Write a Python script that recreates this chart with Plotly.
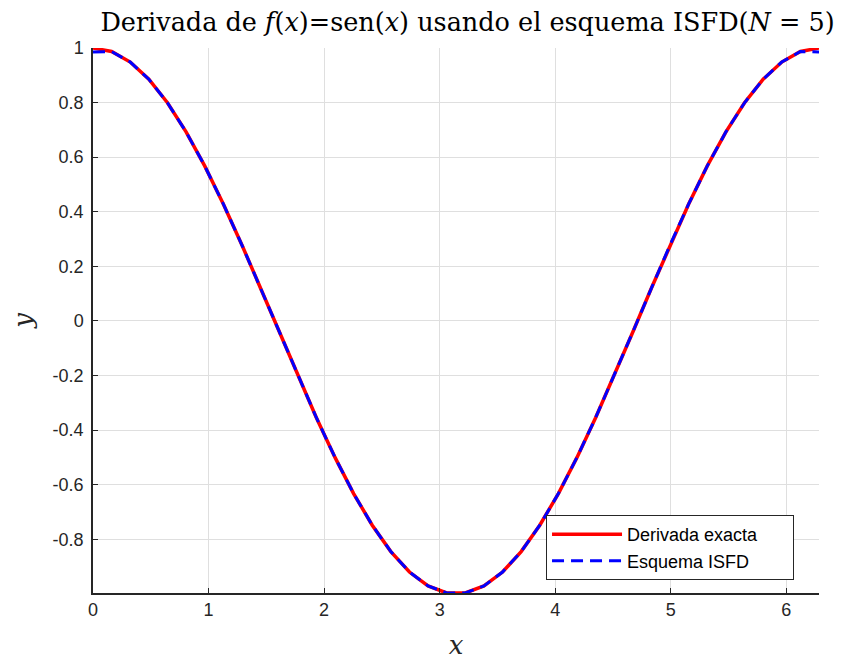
import plotly.graph_objects as go

# x grid (40 points from 0 to 2*pi)
x_vals = [0.0000, 0.1611, 0.3222, 0.4833, 0.6444, 0.8055, 0.9666, 1.1278, 1.2889, 1.4500,
          1.6111, 1.7722, 1.9333, 2.0944, 2.2555, 2.4166, 2.5777, 2.7388, 2.8999, 3.0610,
          3.2221, 3.3833, 3.5444, 3.7055, 3.8666, 4.0277, 4.1888, 4.3499, 4.5110, 4.6721,
          4.8332, 4.9943, 5.1554, 5.3165, 5.4777, 5.6388, 5.7999, 5.9610, 6.1221, 6.2832]

y_exacta = [1.0000, 0.9871, 0.9485, 0.8855, 0.7994, 0.6927, 0.5681, 0.4287, 0.2782, 0.1205,
            -0.0403, -0.2000, -0.3546, -0.5000, -0.6325, -0.7485, -0.8452, -0.9200, -0.9709, -0.9968,
            -0.9968, -0.9709, -0.9200, -0.8452, -0.7485, -0.6325, -0.5000, -0.3546, -0.2000, -0.0403,
            0.1205, 0.2782, 0.4287, 0.5681, 0.6927, 0.7994, 0.8855, 0.9485, 0.9871, 1.0000]

y_isfd = [0.9855, 0.9871, 0.9485, 0.8855, 0.7994, 0.6927, 0.5681, 0.4287, 0.2782, 0.1205,
          -0.0403, -0.2000, -0.3546, -0.5000, -0.6325, -0.7485, -0.8452, -0.9200, -0.9709, -0.9968,
          -0.9968, -0.9709, -0.9200, -0.8452, -0.7485, -0.6325, -0.5000, -0.3546, -0.2000, -0.0403,
          0.1205, 0.2782, 0.4287, 0.5681, 0.6927, 0.7994, 0.8855, 0.9485, 0.9871, 0.9855]

x_ticks = [0, 1, 2, 3, 4, 5, 6]
y_ticks = [-0.8, -0.6, -0.4, -0.2, 0, 0.2, 0.4, 0.6, 0.8, 1]
y_ticklabels = ["-0.8", "-0.6", "-0.4", "-0.2", "0", "0.2", "0.4", "0.6", "0.8", "1"]

pad = "\u00a0" * 6

fig = go.Figure()
fig.add_trace(go.Scatter(x=x_vals, y=y_exacta, mode="lines", name="Derivada exacta" + pad,
                         line=dict(color="#ff0000", width=3.5)))
fig.add_trace(go.Scatter(x=x_vals, y=y_isfd, mode="lines", name="Esquema ISFD",
                         line=dict(color="#0000ff", width=3, dash="12px,7px")))

serif = "DejaVu Serif, Liberation Serif, serif"
sans = "Liberation Sans, Arial, sans-serif"

fig.update_layout(
    width=837, height=652,
    paper_bgcolor="white", plot_bgcolor="white",
    margin=dict(l=85, r=26, t=40, b=67),
    title=dict(text="Derivada de <i>f</i>(<i>x</i>)=sen(<i>x</i>) usando el esquema ISFD(<i>N</i> = 5)",
               x=0.549, xanchor="center", y=0.9785, yanchor="middle",
               font=dict(family=serif, size=25.5, color="#000000")),
    font=dict(family=sans, size=18, color="#262626"),
    showlegend=True,
    legend=dict(x=0.624, y=0.143, xanchor="left", yanchor="top",
                bgcolor="white", bordercolor="#262626", borderwidth=1,
                font=dict(family=sans, size=18, color="#000000"),
                itemwidth=70, tracegroupgap=0),
    xaxis=dict(range=[0, 6.2832], tickvals=x_ticks, ticktext=[str(t) for t in x_ticks],
               showgrid=True, gridcolor="#dfdfdf", gridwidth=1,
               showline=True, linecolor="#262626", linewidth=1.5,
               ticks="inside", ticklen=5, tickcolor="#262626", zeroline=False,
               automargin=False,
               tickfont=dict(family=sans, size=18, color="#262626"),
               title=dict(text="<i>x</i>", font=dict(family=serif, size=26, color="#262626"), standoff=18)),
    yaxis=dict(range=[-0.9968, 1.0], tickvals=y_ticks, ticktext=y_ticklabels,
               showgrid=True, gridcolor="#dfdfdf", gridwidth=1,
               showline=True, linecolor="#262626", linewidth=1.5,
               ticks="inside", ticklen=5, tickcolor="#262626", zeroline=False,
               ticklabelstandoff=4, automargin=False,
               tickfont=dict(family=sans, size=18, color="#262626"),
               title=dict(text="<i>y</i>", font=dict(family=serif, size=26, color="#262626"), standoff=24)),
)

fig.write_html("out.html")
